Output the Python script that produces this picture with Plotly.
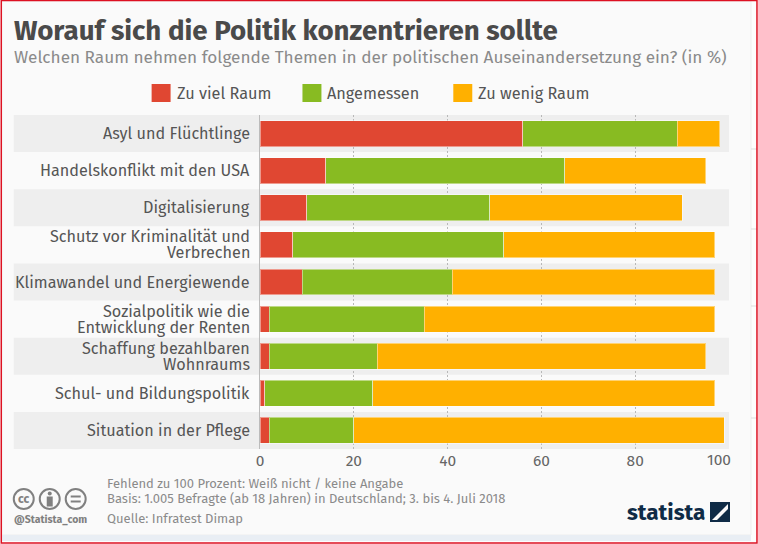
import plotly.graph_objects as go

categories = ["Asyl und Flüchtlinge", "Handelskonflikt mit den USA", "Digitalisierung",
              "Schutz vor Kriminalität und<br>Verbrechen", "Klimawandel und Energiewende",
              "Sozialpolitik wie die<br>Entwicklung der Renten", "Schaffung bezahlbaren<br>Wohnraums",
              "Schul- und Bildungspolitik", "Situation in der Pflege"]
zu_viel = [56, 14, 10, 7, 9, 2, 2, 1, 2]
angemessen = [33, 51, 39, 45, 32, 33, 23, 23, 18]
zu_wenig = [9, 30, 41, 45, 56, 62, 70, 73, 79]
series_names = ["Zu viel Raum", "Angemessen", "Zu wenig Raum"]
colors = ["#e04732", "#88bb22", "#ffb000"]
tick_vals = [0, 20, 40, 60, 80, 100]
tick_text = ["0", "20", "40", "60", "80", ""]

W, H = 758, 544
L, R, T, B = 259.5, 729, 115, 449
FONT = "Fira Sans, Noto Sans, sans-serif"
def px(x): return (x - L) / (R - L)
def py(y): return (B - y) / (B - T)

fig = go.Figure()
for name, vals, c in zip(series_names, [zu_viel, angemessen, zu_wenig], colors):
    fig.add_trace(go.Bar(y=categories, x=vals, name=name, orientation="h",
                         marker=dict(color=c, line=dict(color="rgba(255,255,255,0.45)", width=1)),
                         showlegend=False, hoverinfo="x+y"))

shapes = []
def rect(x0, y0, x1, y1, fill, line=None, lw=0, layer="below", kind="rect"):
    shapes.append(dict(type=kind, xref="paper", yref="paper", x0=px(x0), x1=px(x1), y0=py(y0), y1=py(y1),
                       fillcolor=fill, line=dict(color=line or fill, width=lw), layer=layer))
def hline(x0, x1, y, color):
    shapes.append(dict(type="line", xref="paper", yref="paper", x0=px(x0), x1=px(x1), y0=py(y), y1=py(y),
                       line=dict(color=color, width=1), layer="below"))

rect(0, 0, W, H, "#fdfdfd")
rect(1, 1, 751, 535, "#fafafa", "#eeeeee", 1)
rect(1, 535, 751, 541, "#e9eef4")
for yy in (149, 229, 306, 418):
    hline(751, 757, yy, "#dddddd")
rect(0.5, 0.5, 757, 543, "rgba(0,0,0,0)", "#dd1122", 1.5, layer="above")

# alternating row bands
row = (B - T) / len(categories)
for i in range(0, len(categories), 2):
    rect(13, T + i * row, R, T + (i + 1) * row, "#eeeeee")

annotations = []
def text(x, y, s, size, color, anchor="left", weight=None, family=FONT):
    annotations.append(dict(xref="paper", yref="paper", x=px(x), y=py(y), text=s, showarrow=False,
                            xanchor=anchor, yanchor="middle", align=anchor, xshift=0,
                            borderpad=0, borderwidth=0,
                            font=dict(size=size, color=color, family=family, weight=weight)))

text(13, 30, "Worauf sich die Politik konzentrieren sollte", 27.7, "#4a4a4a", weight=700)
text(13, 57, "Welchen Raum nehmen folgende Themen in der politischen Auseinandersetzung ein? (in %)", 17.2, "#8a8a8a")

for x, name, c, tx in zip([151, 302, 453], series_names, colors, [176, 327, 478]):
    rect(x, 84, x + 19, 102, c, layer="above")
    text(tx, 93, name, 16.3, "#555555")

# category labels, one annotation per printed line so the leading stays tight
for i, cat in enumerate(categories):
    parts = cat.split("<br>")
    for j, part in enumerate(parts):
        annotations.append(dict(xref="paper", yref="y", x=px(250.5), y=cat, text=part, showarrow=False,
                                xanchor="right", yanchor="middle", borderpad=0,
                                yshift=(len(parts) - 1) * 8 - j * 16,
                                font=dict(size=16.2, color="#555555", family=FONT)))

text(R + 2, 460, "100", 15.5, "#666666", anchor="right")

text(106, 483, "Fehlend zu 100 Prozent: Weiß nicht / keine Angabe", 13, "#8a8a8a")
text(106, 498, "Basis: 1.005 Befragte (ab 18 Jahren) in Deutschland; 3. bis 4. Juli 2018", 13, "#8a8a8a")
text(106, 518, "Quelle: Infratest Dimap", 13, "#8a8a8a")

# licence icons
for cx in [23, 49, 75]:
    rect(cx - 10, 489, cx + 10, 509, "rgba(0,0,0,0)", "#808080", 2, layer="above", kind="circle")
text(23, 498.5, "cc", 12, "#808080", anchor="center", weight=700)
rect(47, 491.5, 51, 495.5, "#808080", layer="above", kind="circle")
rect(46, 496.5, 52, 506.5, "#808080", layer="above")
rect(70, 495.5, 80, 497.5, "#808080", layer="above")
rect(70, 500.5, 80, 502.5, "#808080", layer="above")
text(13, 519, "@Statista_com", 10.5, "#808080", weight=700)

# statista logo
text(627, 512, "statista", 22.5, "#0f2b46", weight=700)
rect(710, 502, 730, 522, "#0f2b46", layer="above")
shapes.append(dict(type="path", xref="paper", yref="paper",
                   path=f"M {px(712)} {py(520)} L {px(728)} {py(504)} L {px(728)} {py(509)} L {px(717)} {py(520)} Z",
                   fillcolor="#fafafa", line=dict(width=0), layer="above"))

fig.update_layout(
    width=W, height=H, autosize=False, barmode="stack", bargap=0.3,
    margin=dict(l=L, r=W - R, t=T, b=H - B, pad=0),
    paper_bgcolor="#ffffff", plot_bgcolor="rgba(0,0,0,0)",
    font=dict(family=FONT, color="#555555"),
    shapes=shapes, annotations=annotations,
    xaxis=dict(range=[0, 100], tickvals=tick_vals, ticktext=tick_text, showgrid=True,
               gridcolor="#b8b8b8", griddash="2px,2px", gridwidth=1, zeroline=False, showline=False,
               ticks="", tickfont=dict(size=15.5, color="#666666")),
    yaxis=dict(categoryorder="array", categoryarray=categories[::-1], autorange=False,
               range=[-0.5, 8.5], showgrid=False, zeroline=False, showline=True, linecolor="#bbbbbb",
               linewidth=1, ticks="", showticklabels=False),
)
fig.write_html("out.html", config=dict(displayModeBar=False),
               post_script="document.body.style.margin='0';document.documentElement.style.overflow='hidden';")
